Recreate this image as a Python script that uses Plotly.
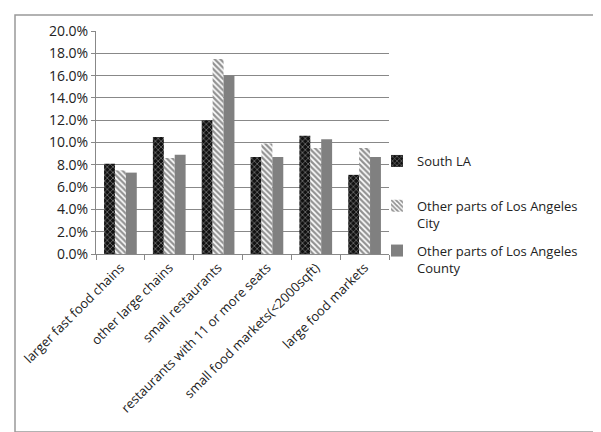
import plotly.graph_objects as go

categories = [
    "larger fast food chains",
    "other large chains",
    "small restaurants",
    "restaurants with 11 or more seats",
    "small food markets(<2000sqft)",
    "large food markets",
]
south_la = [0.081, 0.105, 0.120, 0.087, 0.106, 0.071]
other_city = [0.075, 0.086, 0.175, 0.099, 0.095, 0.095]
other_county = [0.073, 0.089, 0.160, 0.087, 0.103, 0.087]
y_ticks = [i / 100 for i in range(0, 21, 2)]

W, H = 601, 432
L, R, T, B = 88, 220, 23, 186
pw, ph = W - L - R, H - T - B


def px_x(x):
    return (x - L) / pw


def px_y(y):
    return (H - B - y) / ph


fig = go.Figure()
fig.add_trace(go.Bar(
    x=categories, y=south_la, name="South LA<br> ", legendgroup="a",
    marker=dict(color="#111111", line=dict(width=0),
                pattern=dict(shape="x", fgcolor="#ffffff", size=4, solidity=0.3)),
))
fig.add_trace(go.Bar(
    x=categories, y=other_city, name="Other parts of Los Angeles<br>City", legendgroup="b",
    marker=dict(color="#ffffff", line=dict(width=0),
                pattern=dict(shape="\\", fgcolor="#222222", size=4, solidity=0.55)),
))
fig.add_trace(go.Bar(
    x=categories, y=other_county, name="Other parts of Los Angeles<br>County", legendgroup="c",
    marker=dict(color="#808080", line=dict(width=0)),
))

# outer chart border
fig.add_shape(type="rect", xref="paper", yref="paper",
              x0=px_x(7), x1=px_x(594), y0=px_y(424), y1=px_y(7),
              line=dict(color="#999999", width=1.5))

font = dict(family="Open Sans, Liberation Sans, sans-serif", size=12, color="#222222")
fig.update_layout(
    width=W, height=H,
    margin=dict(l=L, r=R, t=T, b=B, autoexpand=False),
    paper_bgcolor="white", plot_bgcolor="white",
    font=font,
    barmode="group", bargap=0.33, bargroupgap=0,
    showlegend=True,
    legend=dict(x=px_x(369), y=px_y(138), xanchor="left", yanchor="top",
                font=dict(size=13, color="#222222"), tracegroupgap=8,
                itemwidth=30, valign="top", bgcolor="rgba(0,0,0,0)"),
    xaxis=dict(type="category", tickangle=-45, showline=True, linecolor="#888888",
               ticks="outside", tickson="boundaries", ticklen=5, tickcolor="#888888",
               tickfont=dict(size=13), showgrid=False, automargin=False),
    yaxis=dict(range=[0, 0.2], tickvals=y_ticks, tickformat=".1%",
               showline=True, linecolor="#888888", gridcolor="#888888",
               ticks="outside", ticklen=4, tickcolor="#888888",
               tickfont=dict(size=14), zeroline=False, automargin=False),
)
fig.write_html("out.html")
